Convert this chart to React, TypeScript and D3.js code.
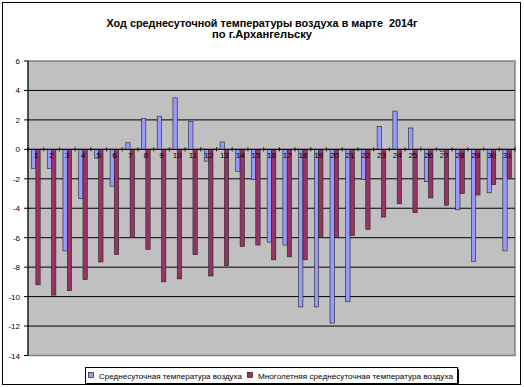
import React from 'react';
import * as d3 from 'd3';

const DAYS = d3.range(1, 32).map(String);
const DAILY = [-1.3, -1.3, -6.9, -3.35, -0.6, -2.5, 0.45, 2.1, 2.25, 3.5, 1.9, -0.8, 0.5, -1.5, -2.05, -6.3, -6.5, -10.7, -10.7, -11.8, -10.35, -2.05, 1.55, 2.6, 1.45, -2.2, -0.15, -4.1, -7.6, -2.95, -6.9];
const NORMAL = [-9.2, -9.9, -9.6, -8.85, -7.65, -7.15, -6.0, -6.8, -9.0, -8.8, -7.15, -8.6, -7.9, -6.6, -6.5, -7.5, -7.3, -7.5, -6.0, -6.0, -5.85, -5.45, -4.6, -3.7, -4.3, -3.3, -3.8, -3.0, -3.1, -2.4, -1.9];
const SERIES = ['Среднесуточная температура воздуха', 'Многолетняя среднесуточная температура воздуха'];
const COLORS = ['#9999ff', '#993366'];
const Y_TICKS = [6, 4, 2, 0, -2, -4, -6, -8, -10, -12, -14];
const TITLE = ['Ход среднесуточной температуры воздуха в марте  2014г', 'по г.Архангельску'];

const W = 524;
const H = 387;
const plot = { left: 28, right: 515, top: 61, bottom: 355.5 };

export default function App() {
  const x = d3.scaleBand().domain(DAYS).range([plot.left, plot.right]).paddingInner(0.45).paddingOuter(0.225);
  const xs = d3.scaleBand().domain(['0', '1']).range([0, x.bandwidth()]);
  const y = d3.scaleLinear().domain([-14, 6]).range([plot.bottom, plot.top]);
  const step = x.step();
  const font = 'Arial, "Liberation Sans", sans-serif';
  const values = [DAILY, NORMAL];
  // widths
  const titleLen = [311, 100];
  const legendLen = [143, 195];

  return (
    <svg width={W} height={H} style={{ position: 'absolute', left: 0, top: 0, background: '#fff' }} fontFamily={font}>
      <rect x={2.5} y={2.5} width={518} height={382} fill="#fff" stroke="#000" />

      {TITLE.map((t, i) => (
        <text key={i} x={262} y={27 + i * 11} textAnchor="middle" fontSize={10} fontWeight="bold"
          style={{ whiteSpace: 'pre' }} textLength={titleLen[i]} lengthAdjust="spacingAndGlyphs">{t}</text>
      ))}

      <rect x={plot.left} y={plot.top} width={plot.right - plot.left} height={plot.bottom - plot.top} fill="#c0c0c0" stroke="#808080" strokeWidth={1.5} />

      {Y_TICKS.map((t) => (
        <g key={t}>
          {t !== 6 && t !== -14 && <line x1={plot.left} x2={plot.right} y1={y(t)} y2={y(t)} stroke="#000" />}
          <line x1={plot.left - 4} x2={plot.left} y1={y(t)} y2={y(t)} stroke="#000" />
          <text x={20} y={y(t) + 3} textAnchor="end" fontSize={8}>{t}</text>
        </g>
      ))}

      {values.map((vals, s) => (
        <g key={s}>
          {vals.map((v, i) => {
            const bx = (x(DAYS[i]) ?? 0) + (xs(String(s)) ?? 0);
            const y0 = y(Math.max(0, v));
            const h = Math.abs(y(v) - y(0));
            return <rect key={i} x={bx} y={y0} width={xs.bandwidth()} height={h} fill={COLORS[s]} stroke="#222" strokeWidth={0.6} />;
          })}
        </g>
      ))}

      <line x1={plot.left} x2={plot.right} y1={y(0)} y2={y(0)} stroke="#000" />
      {d3.range(DAYS.length + 1).map((i) => (
        <line key={i} x1={plot.left + i * step} x2={plot.left + i * step} y1={y(0) - 2} y2={y(0) + 2} stroke="#000" />
      ))}
      {DAYS.map((d) => (
        <text key={d} x={(x(d) ?? 0) + x.bandwidth() / 2} y={y(0) + 9} textAnchor="middle" fontSize={8}>{d}</text>
      ))}
      <line x1={plot.left} x2={plot.left} y1={plot.top} y2={plot.bottom} stroke="#000" />

      <rect x={87} y={369} width={372} height={16} fill="#000" />
      <rect x={85.5} y={367.5} width={372} height={16} fill="#fff" stroke="#000" />
      {SERIES.map((name, i) => {
        const lx = i === 0 ? 88 : 247;
        return (
          <g key={i}>
            <rect x={lx + 0.5} y={372.5} width={5} height={5} fill={COLORS[i]} stroke="#000" strokeWidth={0.6} />
            <text x={lx + 11} y={379} fontSize={8} textLength={legendLen[i]} lengthAdjust="spacingAndGlyphs">{name}</text>
          </g>
        );
      })}
    </svg>
  );
}
